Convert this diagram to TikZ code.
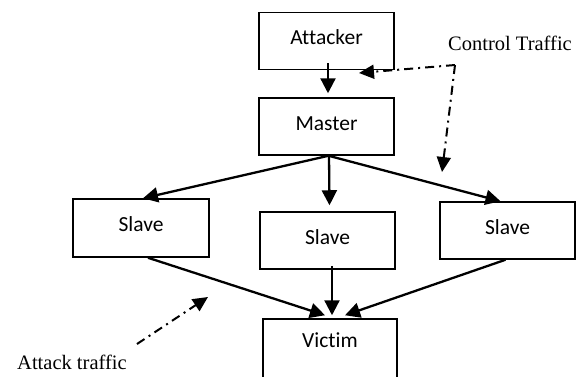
\documentclass[tikz,border=0pt]{standalone}
\usepackage{fontspec}
\setmainfont{Liberation Serif}
\newfontfamily\boxfont[Ligatures=NoCommon]{Carlito}
\usetikzlibrary{arrows.meta,calc}
\tikzset{
  box/.style={draw, line width=1.5pt, minimum width=135pt, minimum height=57pt, inner sep=0pt,
    font=\boxfont\fontsize{21.5}{23}\selectfont, text height=15pt, text depth=8pt},
  arr/.style={line width=2.3pt, -{Triangle[length=15pt,width=15pt]}},
  dd/.style={line width=2pt, dash pattern=on 9pt off 5pt on 2pt off 5pt},
  ddtip/.style={-{Triangle[length=15pt,width=14pt]}},
  lbl/.style={font=\fontsize{20.5}{22}\selectfont, inner sep=0pt}
}
\begin{document}
\begin{tikzpicture}[x=1pt,y=-1pt]
\useasboundingbox (0,0) rectangle (585,376);
\clip (0,0) rectangle (585,376);
\node[box] (attacker) at (326.5,41) {Attacker};
\node[box] (master) at (326.5,126.5) {Master};
\node[box, minimum width=136pt, minimum height=58pt] (slave1) at (141,228) {Slave};
\node[box] (slave2) at (327.5,240.5) {Slave};
\node[box] (slave3) at (507.5,230.5) {Slave};
\node[box, minimum width=134pt, minimum height=62pt, text depth=20pt] (victim) at (330,350) {Victim};

\draw[arr] ($(attacker.south)+(1.5,-7)$) -- ($(attacker.south |- master.north)+(1.5,-4)$);
\draw[arr] ($(master.south)+(2,0)$) -- ($(slave1.north)+(2,0)$);
\draw[arr] ($(master.south)+(2.5,0)$) -- ($(master.south |- slave2.north)+(3,-6)$);
\draw[arr] ($(master.south)+(2,0)$) -- ($(slave3.north)+(-7,0)$);
\draw[arr] ($(slave1.south)+(7,0)$) -- ($(victim.north)+(-5,-3)$);
\draw[arr] ($(slave2.south)+(4.5,-4)$) -- ($(slave2.south |- victim.north)+(4.5,-3)$);
\draw[arr] ($(slave3.south)+(-2,0)$) -- ($(victim.north)+(15,-3)$);

\node[lbl, anchor=west] (ctl) at (448,43) {Control Traffic};
\coordinate (corner) at (455,65);
\coordinate (ctA) at (359,73);
\coordinate (ctB) at (442,172);
\draw[dd, ddtip] (corner) -- (ctA);
\draw[dd, ddtip] (corner) -- (ctB);

\node[lbl, anchor=west] (atk) at (17,362) {Attack traffic};
\coordinate (atkS) at (137,344);
\coordinate (atkT) at (208,297);
\draw[dd, ddtip] (atkS) -- (atkT);
\end{tikzpicture}
\end{document}
